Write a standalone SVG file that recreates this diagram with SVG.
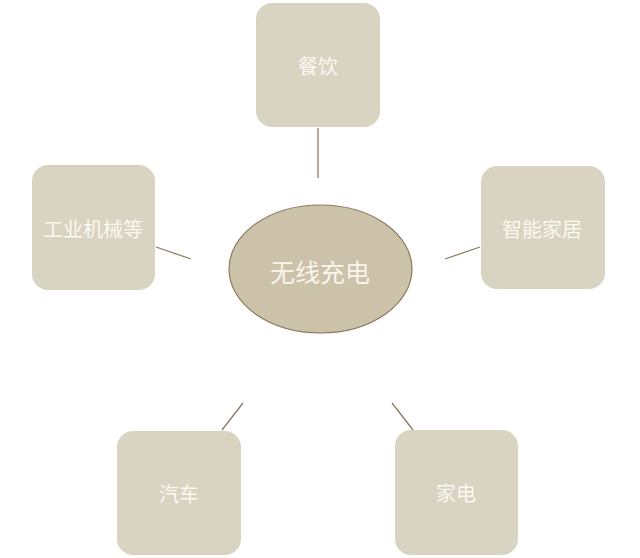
<svg xmlns="http://www.w3.org/2000/svg" width="640" height="558" viewBox="0 0 640 558">
<style>
.box{fill:#d9d3c1;}
.lbl{font-family:"Noto Sans CJK SC","Liberation Sans",sans-serif;font-size:20px;fill:#fbf8f1;text-anchor:middle;dominant-baseline:central;}
.ctr{font-family:"Noto Sans CJK SC","Liberation Sans",sans-serif;font-size:25px;fill:#f9f5ec;text-anchor:middle;dominant-baseline:central;}
.con{stroke:#8c7b62;stroke-width:1.3;fill:none;}
</style>
<rect width="640" height="558" fill="#ffffff"/>
<g id="connectors">
<line class="con" x1="318" y1="128" x2="318" y2="178"/>
<line class="con" x1="156" y1="247" x2="191" y2="259"/>
<line class="con" x1="445" y1="259" x2="480" y2="247"/>
<line class="con" x1="222" y1="430" x2="243" y2="403"/>
<line class="con" x1="392" y1="403" x2="413" y2="430"/>
</g>
<g id="center">
<ellipse cx="320.5" cy="269" rx="91.5" ry="64" fill="#cbc2a9" stroke="#8a7a5f" stroke-width="1.2"/>
<text class="ctr" x="320" y="271">无线充电</text>
</g>
<g id="node-canyin">
<rect class="box" x="256" y="3" width="124" height="124" rx="16"/>
<text class="lbl" x="318" y="65">餐饮</text>
</g>
<g id="node-gongye">
<rect class="box" x="32" y="165" width="123" height="125" rx="16"/>
<text class="lbl" x="93" y="228">工业机械等</text>
</g>
<g id="node-zhineng">
<rect class="box" x="481" y="166" width="124" height="123" rx="16"/>
<text class="lbl" x="542" y="228">智能家居</text>
</g>
<g id="node-qiche">
<rect class="box" x="117" y="431" width="124" height="124" rx="16"/>
<text class="lbl" x="179" y="493">汽车</text>
</g>
<g id="node-jiadian">
<rect class="box" x="395" y="430" width="123" height="125" rx="16"/>
<text class="lbl" x="456" y="492">家电</text>
</g>
</svg>
